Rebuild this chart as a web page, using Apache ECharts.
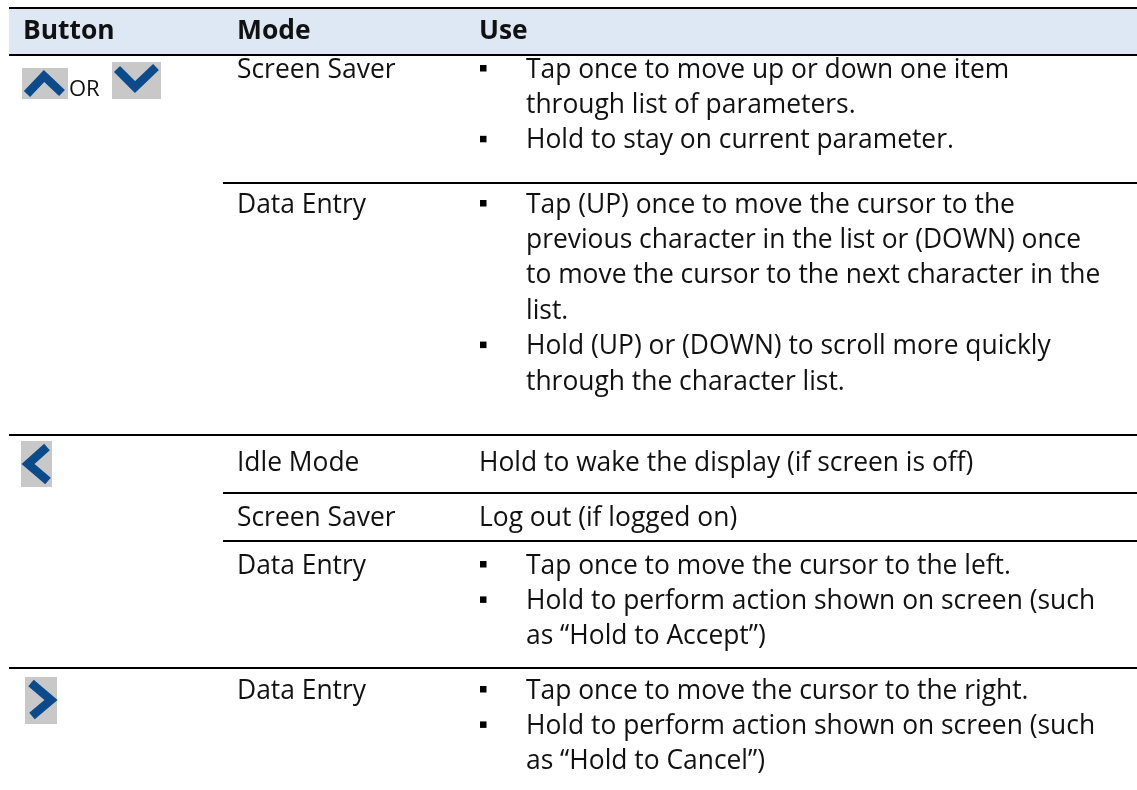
<!DOCTYPE html>
<html>
<head>
<meta charset="utf-8">
<script src="https://cdn.jsdelivr.net/npm/echarts@6/dist/echarts.min.js"></script>
<style>html,body{margin:0;padding:0;background:#fff}#c{width:1137px;height:790px}</style>
</head>
<body>
<div id="c"></div>
<script>
// ---- data ----
const headerLabels = ['Button', 'Mode', 'Use'];
const buttonIcons = ['up-down', 'left', 'right'];
const orLabel = 'OR';
const rowGroup = [0, 0, 1, 1, 1, 2];
const rowModes = ['Screen Saver', 'Data Entry', 'Idle Mode', 'Screen Saver', 'Data Entry', 'Data Entry'];
const rowBulleted = [true, true, false, false, true, true];
const rowUse = [
  [['Tap once to move up or down one item', 'through list of parameters.'], ['Hold to stay on current parameter.']],
  [['Tap (UP) once to move the cursor to the', 'previous character in the list or (DOWN) once', 'to move the cursor to the next character in the', 'list.'], ['Hold (UP) or (DOWN) to scroll more quickly', 'through the character list.']],
  [['Hold to wake the display (if screen is off)']],
  [['Log out (if logged on)']],
  [['Tap once to move the cursor to the left.'], ['Hold to perform action shown on screen (such', 'as \u201cHold to Accept\u201d)']],
  [['Tap once to move the cursor to the right.'], ['Hold to perform action shown on screen (such', 'as \u201cHold to Cancel\u201d)']]
];

// ---- layout ----
const L = {
  left: 9, right: 1137, top: 8, headBottom: 55,
  colX: [23, 237, 479], modeLineX: 223, bulletX: 480, bulletTextX: 526,
  headerY: 31, lineH: 35.4,
  rowTop: [55, 183, 435, 493, 541, 668],
  rowFirstY: [70, 205, 463, 518, 566, 691],
  font: '"Open Sans", "Noto Sans", sans-serif', fontSize: 26.4,
  ink: '#111', lineColor: '#000', headFill: '#dde8f4',
  iconGray: '#c8c8c8', iconBlue: '#0b4a8b'
};

const g = [];
// header background
g.push({type: 'rect', shape: {x: L.left, y: L.top, width: L.right - L.left, height: L.headBottom - L.top}, style: {fill: L.headFill}});
headerLabels.forEach((t, i) => {
  g.push({type: 'text', x: L.colX[i], y: L.headerY, style: {text: t, font: 'bold ' + L.fontSize + 'px ' + L.font, fill: L.ink, textVerticalAlign: 'middle'}});
});
function hline(x1, y, x2) {
  g.push({type: 'line', shape: {x1: x1, y1: y, x2: x2, y2: y}, style: {stroke: L.lineColor, lineWidth: 2.2}});
}
hline(L.left, L.top, L.right);
hline(L.left, L.headBottom, L.right);

rowModes.forEach((m, r) => {
  if (r > 0) {
    const newGroup = rowGroup[r] !== rowGroup[r - 1];
    hline(newGroup ? L.left : L.modeLineX, L.rowTop[r], L.right);
  }
  const y0 = L.rowFirstY[r];
  g.push({type: 'text', x: L.colX[1], y: y0, style: {text: m, font: L.fontSize + 'px ' + L.font, fill: L.ink, textVerticalAlign: 'middle'}});
  let k = 0;
  rowUse[r].forEach(par => {
    par.forEach((ln, j) => {
      const y = y0 + k * L.lineH;
      if (rowBulleted[r] && j === 0) {
        g.push({type: 'rect', shape: {x: L.bulletX, y: y - 5, width: 6.5, height: 6.5}, style: {fill: '#000'}});
      }
      g.push({type: 'text', x: rowBulleted[r] ? L.bulletTextX : L.colX[2], y: y, style: {text: ln, font: L.fontSize + 'px ' + L.font, fill: L.ink, textVerticalAlign: 'middle'}});
      k++;
    });
  });
});

// icons
function icon(box, pts) {
  g.push({type: 'rect', shape: box, style: {fill: L.iconGray}});
  g.push({type: 'polyline', shape: {points: pts}, style: {stroke: L.iconBlue, lineWidth: 8.5, fill: null, lineJoin: 'miter', lineCap: 'butt'}});
}
buttonIcons.forEach((ic) => {
  if (ic === 'up-down') {
    icon({x: 22, y: 68, width: 46, height: 31}, [[27, 94], [44, 76], [62, 93]]);
    g.push({type: 'text', x: 69, y: 90, style: {text: orLabel, font: '22px ' + L.font, fill: L.ink, textVerticalAlign: 'middle'}});
    icon({x: 112, y: 62, width: 49, height: 37}, [[117, 69], [135, 87], [156, 67]]);
  } else if (ic === 'left') {
    icon({x: 21, y: 441, width: 31, height: 46}, [[47, 447], [28, 464], [48, 481]]);
  } else {
    icon({x: 25, y: 677, width: 32, height: 47}, [[31, 683], [51, 700], [32, 716]]);
  }
});

const chart = echarts.init(document.getElementById('c'), null, {renderer: 'canvas'});
chart.setOption({animation: false, graphic: {elements: g}});
</script>
</body>
</html>
